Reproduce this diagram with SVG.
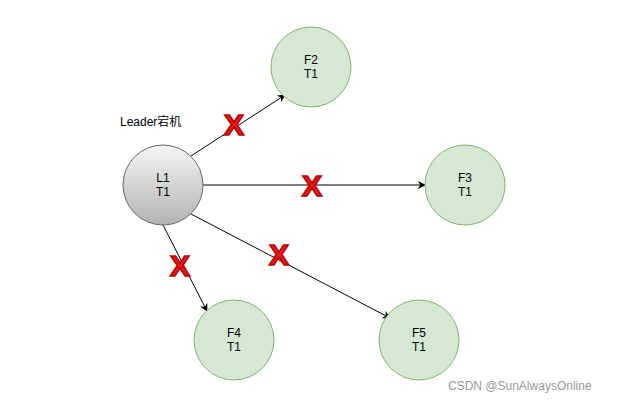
<svg xmlns="http://www.w3.org/2000/svg" width="620" height="404" viewBox="0 0 620 404">
<style>
.f{fill:#d5e8d4;stroke:#82b366;stroke-width:1}
.t{font-family:"Liberation Sans",Arial,sans-serif;font-size:12px;fill:#000;text-anchor:middle}
.e{stroke:#000;stroke-width:1;fill:none;marker-end:url(#a)}
.x{font-family:"Liberation Sans",Arial,sans-serif;font-size:30px;font-weight:bold;fill:#e61a1a;stroke:#c00000;stroke-width:1.6;text-anchor:middle}
</style>
<defs>
<linearGradient id="g" x1="0" y1="0" x2="0" y2="1">
<stop offset="0" stop-color="#f5f5f5"/>
<stop offset="1" stop-color="#b3b3b3"/>
</linearGradient>
<marker id="a" viewBox="0 0 10 10" refX="9" refY="5" markerWidth="8" markerHeight="8" orient="auto" markerUnits="userSpaceOnUse">
<path d="M0,0 L10,5 L0,10 L3,5 Z" fill="#000"/>
</marker>
</defs>
<rect width="620" height="404" fill="#fff"/>
<g id="edges">
<line class="e" x1="191" y1="156" x2="285" y2="95"/>
<line class="e" x1="203" y1="185" x2="425" y2="185"/>
<line class="e" x1="163" y1="225" x2="207" y2="311"/>
<line class="e" x1="191" y1="214" x2="390" y2="318"/>
</g>
<g id="crosses">
<text class="x" x="234" y="135">X</text>
<text class="x" x="312" y="196">X</text>
<text class="x" x="180" y="276">X</text>
<text class="x" x="279" y="265">X</text>
</g>
<g id="label"><text x="120" y="126" font-family="'Liberation Sans','Noto Sans CJK SC',sans-serif" font-size="12">Leader宕机</text></g>
<g id="L1"><circle cx="163" cy="185" r="40" fill="url(#g)" stroke="#666"/><text class="t" x="163" y="182">L1</text><text class="t" x="163" y="196">T1</text></g>
<g id="F2"><circle class="f" cx="311" cy="67" r="40"/><text class="t" x="311" y="64">F2</text><text class="t" x="311" y="78">T1</text></g>
<g id="F3"><circle class="f" cx="465" cy="185" r="40"/><text class="t" x="465" y="182">F3</text><text class="t" x="465" y="196">T1</text></g>
<g id="F4"><circle class="f" cx="234" cy="340" r="40"/><text class="t" x="234" y="337">F4</text><text class="t" x="234" y="351">T1</text></g>
<g id="F5"><circle class="f" cx="419" cy="340" r="40"/><text class="t" x="419" y="337">F5</text><text class="t" x="419" y="351">T1</text></g>
<text x="448" y="390" font-family="'Liberation Sans',sans-serif" font-size="12" fill="#999">CSDN @SunAlwaysOnline</text>
</svg>
